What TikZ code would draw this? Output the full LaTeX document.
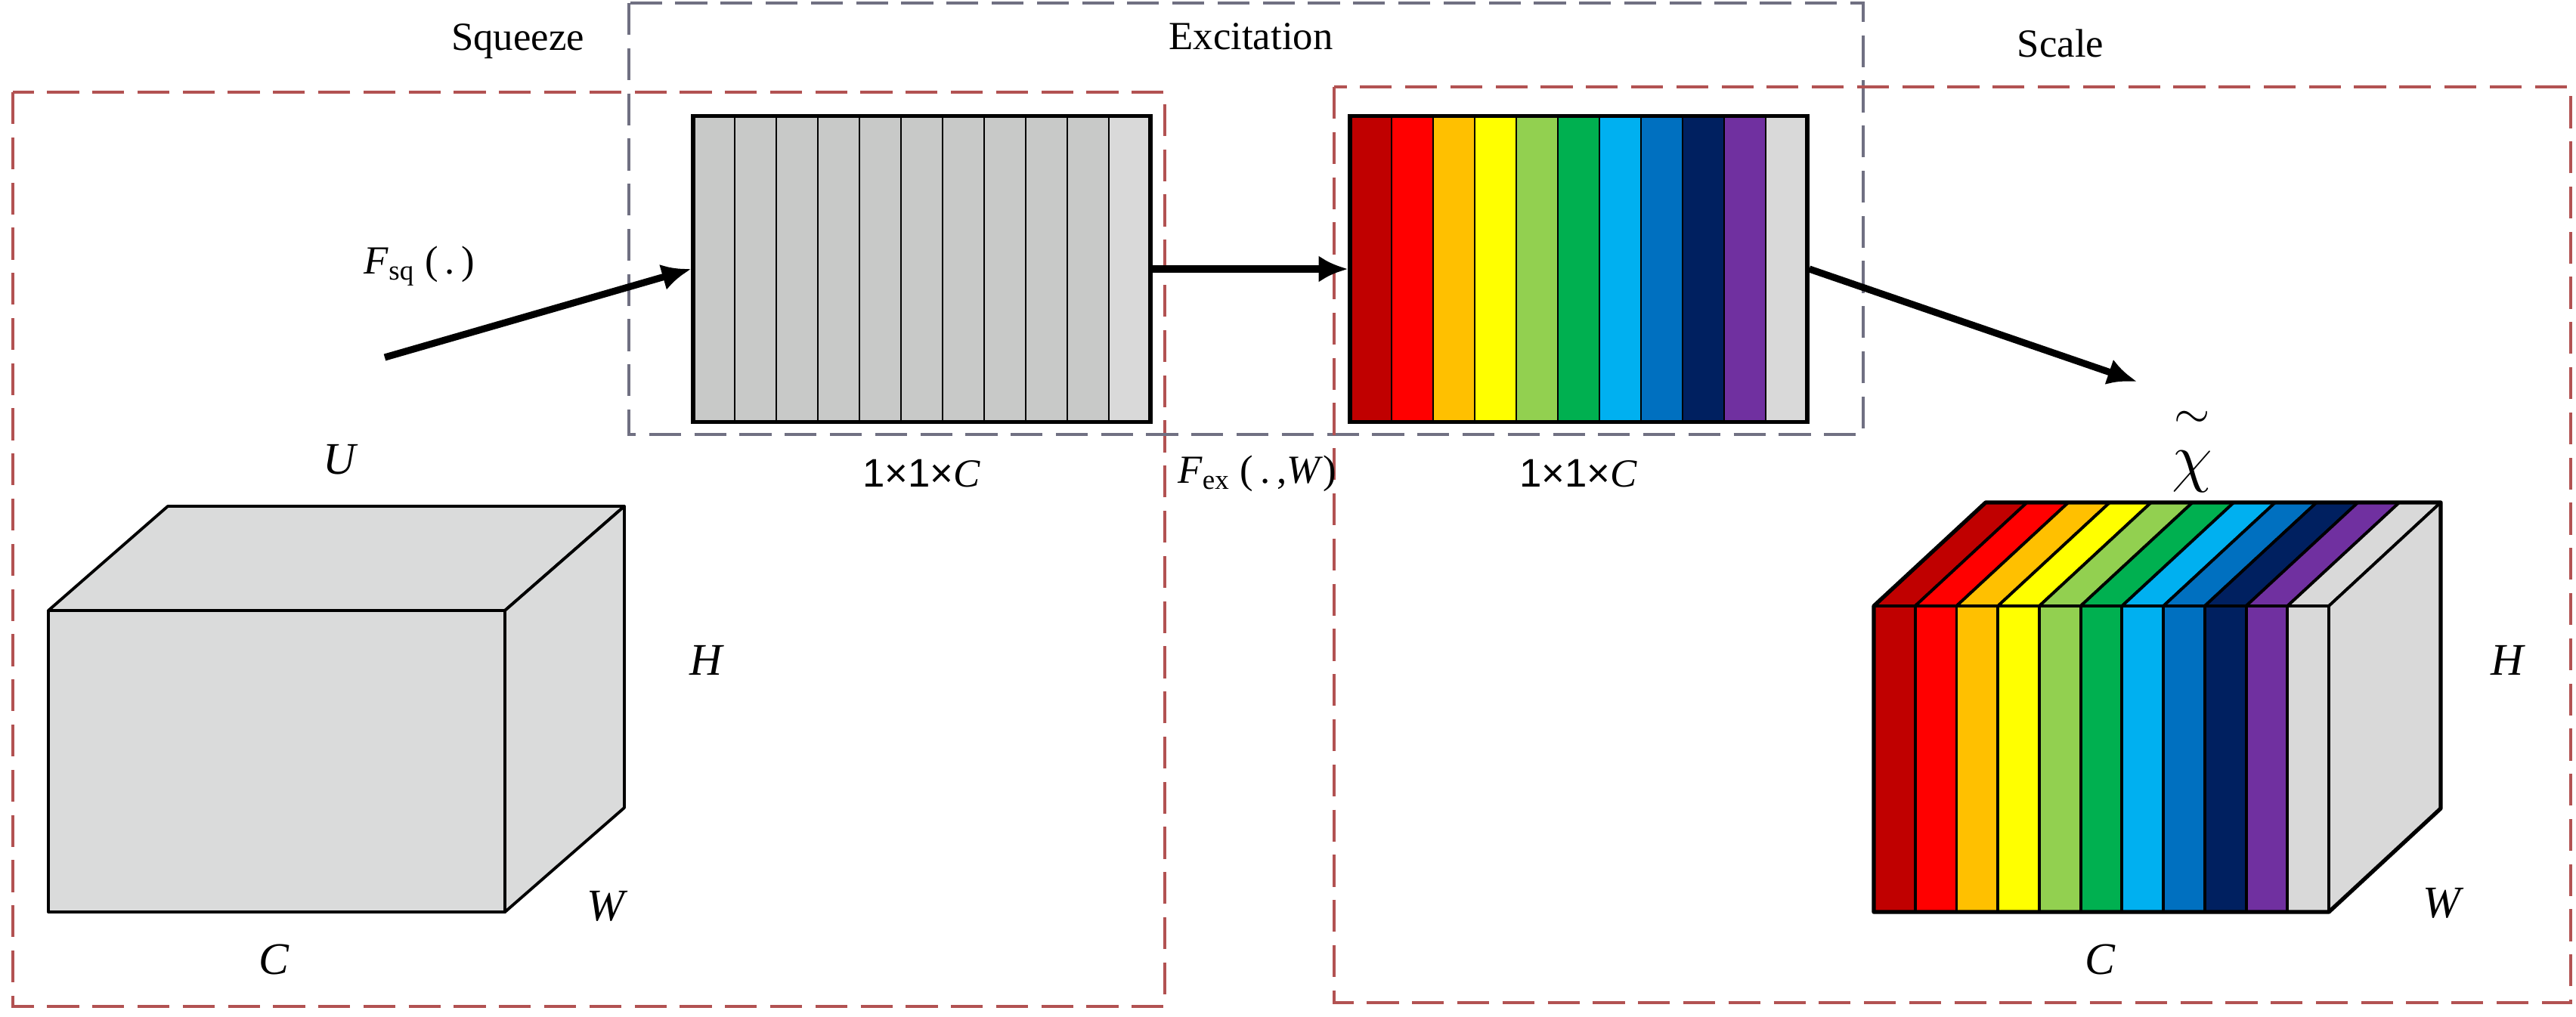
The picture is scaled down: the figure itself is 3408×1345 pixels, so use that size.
\documentclass[tikz,border=0pt]{standalone}
\usepackage{fontspec}
\setmainfont{Liberation Serif}
\newfontfamily\sizefont{Liberation Sans}
\usetikzlibrary{calc, fit, arrows.meta}
\definecolor{c1}{HTML}{C00000}
\definecolor{c2}{HTML}{FF0000}
\definecolor{c3}{HTML}{FFC000}
\definecolor{c4}{HTML}{FFFF00}
\definecolor{c5}{HTML}{92D050}
\definecolor{c6}{HTML}{00B050}
\definecolor{c7}{HTML}{00B0F0}
\definecolor{c8}{HTML}{0070C0}
\definecolor{c9}{HTML}{002060}
\definecolor{c10}{HTML}{7030A0}
\definecolor{c11}{HTML}{D9D9D9}
\definecolor{sqgray}{HTML}{C8C9C8}
\definecolor{cubegray}{HTML}{DADBDB}
\definecolor{boxred}{RGB}{178,82,82}
\definecolor{boxgray}{RGB}{112,112,130}
\tikzstyle{arrow}  = [line width=2.6pt,-{Latex[length=11pt,width=10pt]}]
\tikzstyle{stage}  = [line width=1.1pt,dash pattern=on 12pt off 5pt]
\tikzstyle{strip}  = [draw,line width=0.8pt,minimum width=0.55cm,minimum height=4.05cm,inner sep=0pt,outer sep=0pt]
\tikzstyle{frame}  = [draw,line width=1.5pt,inner sep=0pt]
\tikzstyle{face}   = [draw=black,line width=1.1pt,line join=round]
\tikzstyle{title}  = [font=\fontsize{15}{18}\selectfont]
\tikzstyle{dim}    = [font=\fontsize{17}{20}\selectfont\itshape]
\tikzstyle{lbl}    = [font=\fontsize{15}{18}\selectfont]

\begin{document}
\begin{tikzpicture}[x=0.01cm,y=-0.01cm]
  \path[use as bounding box,fill=white] (0,0) rectangle (3408,1345);

  %stage boxes
  \draw[stage,boxred] (17,122) rectangle (1541,1332);
  \draw[stage,boxgray] (832,4) rectangle (2465,575);
  \draw[stage,boxred] (1765,115) rectangle (3401,1327);
  \node[title] (tsq) at (685,55) {Squeeze};
  \node[title] (tex) at (1655,48) {Excitation};
  \node[title] (tsc) at (2726,57) {Scale};

  %input cube U
  \filldraw[face,fill=cubegray] (64,808) -- ++(158,-138) -- ++(604,0) -- (668,808) -- cycle;
  \filldraw[face,fill=cubegray] (668,808) -- ++(158,-138) -- ++(0,399) -- (668,1207) -- cycle;
  \filldraw[face,fill=cubegray] (64,808) rectangle (668,1207);
  \node[dim] (lu) at (449,608) {U};
  \node[dim] (lh) at (934,874) {H};
  \node[dim] (lw) at (801,1199) {W};
  \node[dim] (lc) at (362,1270) {C};

  %squeezed vector
  \foreach \c[count=\i] in {sqgray,sqgray,sqgray,sqgray,sqgray,sqgray,sqgray,sqgray,sqgray,sqgray,c11}{
    \node[strip,fill=\c] (g\i) at ({917+55*\i-27.5},356) {};
  }
  \node[frame,fit=(g1) (g11)] (sq) {};
  \node[lbl] (nsq) at (1219,627) {{\sizefont 1×1×}\textit{C}};

  %excited vector
  \foreach \c[count=\i] in {c1,c2,c3,c4,c5,c6,c7,c8,c9,c10,c11}{
    \node[strip,fill=\c] (e\i) at ({1786+55*\i-27.5},356) {};
  }
  \node[frame,fit=(e1) (e11)] (ex) {};
  \node[lbl] (nex) at (2088,627) {{\sizefont 1×1×}\textit{C}};

  %output cube
  \foreach \c[count=\i] in {c1,c2,c3,c4,c5,c6,c7,c8,c9,c10,c11}{
    \pgfmathsetmacro\xa{2479+54.73*(\i-1)}
    \filldraw[face,fill=\c] (\xa,802) -- ++(148,-137) -- ++(54.73,0) -- ++(-148,137) -- cycle;
    \filldraw[face,fill=\c] (\xa,802) rectangle ++(54.73,405);
  }
  \filldraw[face,fill=c11] (3081,802) -- ++(148,-137) -- ++(0,405) -- (3081,1207) -- cycle;
  \draw[line width=1.5pt,line join=round] (2479,1207) -- (2479,802) -- ++(148,-137) -- ++(602,0) -- ++(0,405) -- (3081,1207) -- cycle;
  \node[inner sep=1pt] (chi) at (2900,596) {\fontsize{24}{28}\selectfont$\stackrel{\sim}{\vphantom{b}\chi}$};
  \node[dim] (rh) at (3317,874) {H};
  \node[dim] (rw) at (3230,1195) {W};
  \node[dim] (rc) at (2778,1270) {C};

  %operations
  \coordinate (src) at (509,473);
  \coordinate (dst) at (2827,505);
  \draw[arrow] (src) -- (sq.west);
  \draw[arrow] (sq.east) -- (ex.west);
  \draw[arrow] (ex.east) -- (dst);
  \node[lbl] (fsq) at (555,352) {\textit{F}\textsubscript{sq}~(\,.\,)};
  \node[lbl] (fex) at (1663,627) {\textit{F}\textsubscript{ex}~(\,.\,,\textit{W})};
\end{tikzpicture}
\end{document}
